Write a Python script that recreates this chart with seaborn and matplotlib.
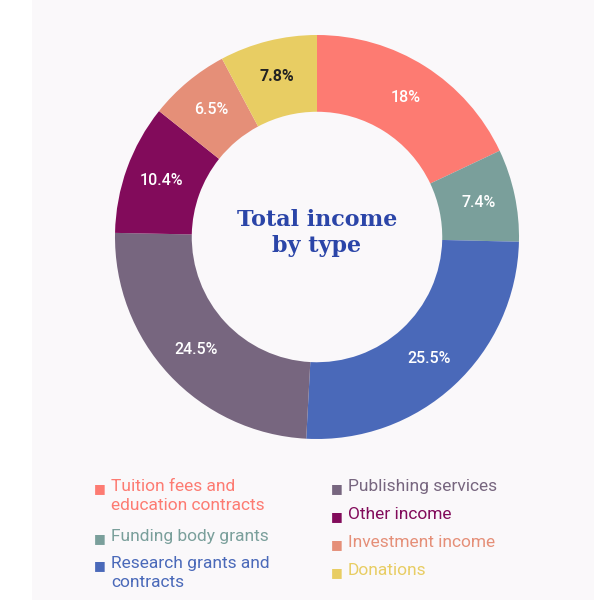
import numpy as np
import matplotlib.pyplot as plt
import seaborn as sns
from matplotlib.patches import Rectangle

categories = ['Tuition fees and\neducation contracts', 'Funding body grants',
              'Research grants and\ncontracts', 'Publishing services',
              'Other income', 'Investment income', 'Donations']
shares = [18, 7.4, 25.5, 24.5, 10.4, 6.5, 7.8]
share_labels = ['18%', '7.4%', '25.5%', '24.5%', '10.4%', '6.5%', '7.8%']
colors = ['#fd7b72', '#7a9f9b', '#4a69b9', '#77667f', '#820b5b', '#e58f78', '#e8cd63']
label_colors = ['white'] * 6 + ['#222222']

sns.set_theme(style='white')
plt.rcParams['font.family'] = ['Roboto', 'DejaVu Sans']

fig = plt.figure(figsize=(5.94, 6.0), dpi=100)
fig.patch.set_facecolor('white')
fig.patches.append(Rectangle((32 / 594, 0), 1, 1, transform=fig.transFigure,
                             facecolor='#faf8fa', edgecolor='none', zorder=-10))

ax = fig.add_axes([115 / 594, 161 / 600, 404 / 594, 404 / 600])
ax.set_facecolor('none')
wedges, _ = ax.pie(shares, colors=colors, startangle=90, counterclock=False,
                   wedgeprops=dict(width=0.38, edgecolor='none'))
ax.set_xlim(-1, 1)
ax.set_ylim(-1, 1)
ax.set_aspect('equal')

r_lab = 0.82
for w, lab, lc in zip(wedges, share_labels, label_colors):
    ang = np.deg2rad((w.theta1 + w.theta2) / 2)
    ax.text(r_lab * np.cos(ang), r_lab * np.sin(ang), lab, ha='center', va='center',
            fontsize=11.5, color=lc, fontweight='medium' if lc == 'white' else 'bold')

ax.text(0, 0.02, 'Total income\nby type', ha='center', va='center', fontsize=16,
        fontweight='bold', color='#2b45a8', family=['DejaVu Serif'], linespacing=1.2)

# legend, two columns
col1 = [0, 1, 2]
col2 = [3, 4, 5, 6]
y1 = [489, 539, 566]
y2 = [489, 517, 545, 573]
for idxs, ys, xm in [(col1, y1, 100), (col2, y2, 337)]:
    for i, y in zip(idxs, ys):
        fig.text(xm / 594, 1 - y / 600, '\u25a0', color=colors[i], fontsize=9,
                 ha='center', va='center', family=['DejaVu Sans'])
        fig.text((xm + 11) / 594, 1 - (y - 10) / 600, categories[i], color=colors[i],
                 fontsize=12.5, ha='left', va='top', linespacing=1.35)

fig.savefig('out.png', dpi=100, facecolor=fig.get_facecolor())
